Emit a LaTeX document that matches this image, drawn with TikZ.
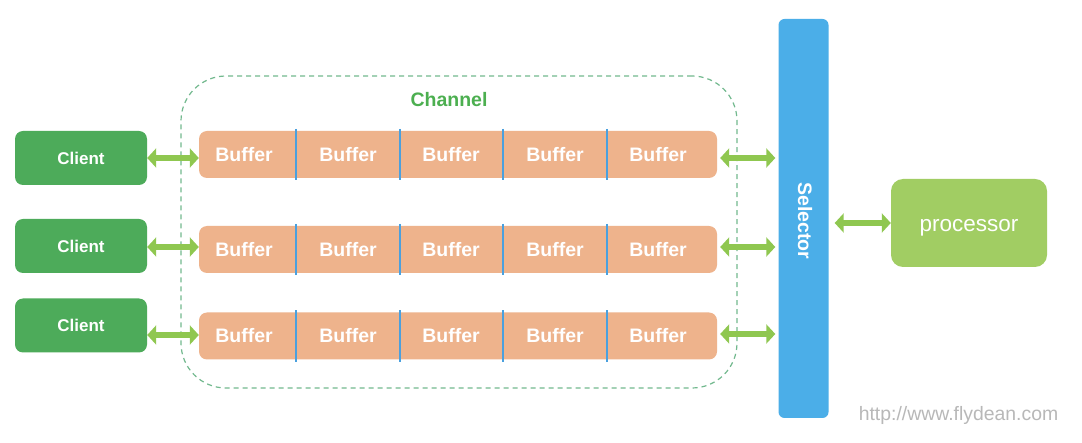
\documentclass[tikz,border=0pt]{standalone}
\usepackage{fontspec}
\setmainfont{Liberation Sans}
\usetikzlibrary{arrows.meta,positioning,calc}
\definecolor{cgreen}{HTML}{4DAB5A}
\definecolor{bsalmon}{HTML}{EEB38C}
\definecolor{dblue}{HTML}{4AA0DE}
\definecolor{agreen}{HTML}{8FC750}
\definecolor{sblue}{HTML}{4BAEE8}
\definecolor{pgreen}{HTML}{A1CD63}
\definecolor{chline}{HTML}{72B98E}
\definecolor{chtext}{HTML}{4CAF50}
\definecolor{wgray}{HTML}{B8B8B8}
\tikzset{
  client/.style={fill=cgreen,text=white,rounded corners=8pt,minimum width=132pt,minimum height=54pt,inner sep=0pt,font=\fontsize{17}{20}\selectfont\bfseries},
  bufrow/.style={fill=bsalmon,rounded corners=8pt,minimum width=518pt,minimum height=47pt,inner sep=0pt},
  buf/.style={text=white,inner sep=0pt,font=\fontsize{19.5}{22}\selectfont\bfseries},
  sep/.style={draw=dblue,line width=2pt},
  dbl/.style={{Triangle[length=9pt,width=19pt]}-{Triangle[length=9pt,width=19pt]},line width=6.5pt,draw=agreen},
  selbox/.style={fill=sblue,rounded corners=6pt,minimum width=50pt,minimum height=399pt,inner sep=0pt},
  proc/.style={fill=pgreen,text=white,rounded corners=12pt,minimum width=156pt,minimum height=88pt,inner sep=0pt,text height=17pt,text depth=0pt,font=\fontsize{22.5}{26}\selectfont},
  chan/.style={draw=chline,dash pattern=on 5pt off 4pt,line width=1.2pt,rounded corners=45pt,minimum width=556pt,minimum height=312pt,inner sep=0pt},
}
\begin{document}
\begin{tikzpicture}[x=1pt,y=-1pt]
  \useasboundingbox[fill=white] (0,0) rectangle (1082,443);
  % channel frame
  \node[chan] (ch) at (459,232) {};
  \node[text=chtext,font=\fontsize{19.5}{22}\selectfont\bfseries] (chlbl) at (449,100) {Channel};
  % selector and processor
  \node[selbox] (sel) at (803.5,218.5) {};
  \node[rotate=-90,text=white,inner sep=0pt,font=\fontsize{19.5}{22}\selectfont\bfseries] (sellbl) at (805,221) {Selector};
  \node[proc] (p) at (969,223) {processor};
  % rows: client -> buffers -> selector
  \foreach \i/\cy/\by/\la/\ra in {1/158/154.5/158/158, 2/246/249.5/247/247, 3/325.5/336/335/334}{
    \node[client] (c\i) at (81,\cy) {Client};
    \node[bufrow] (b\i) at (458,\by) {};
    \foreach \x [count=\j] in {244,348,451,555,658}
      \node[buf] (b\i-\j) at (\x,\by) {Buffer};
    \foreach \x in {296,400,503,607}
      \draw[sep] ([yshift=2pt]b\i.north -| \x,0) -- ([yshift=-2pt]b\i.south -| \x,0);
    \draw[dbl] (c\i.east |- 0,\la) -- (b\i.west |- 0,\la);
    \draw[dbl,shorten <=3pt,shorten >=3pt] (b\i.east |- 0,\ra) -- (sel.west |- 0,\ra);
  }
  \draw[dbl] (sel.east |- p.west) ++(6,0) coordinate (sp) -- (p.west);
  \node[text=wgray,inner sep=0pt,font=\fontsize{19.4}{22}\selectfont] (url) at (958.5,415) {http://www.flydean.com};
\end{tikzpicture}
\end{document}
